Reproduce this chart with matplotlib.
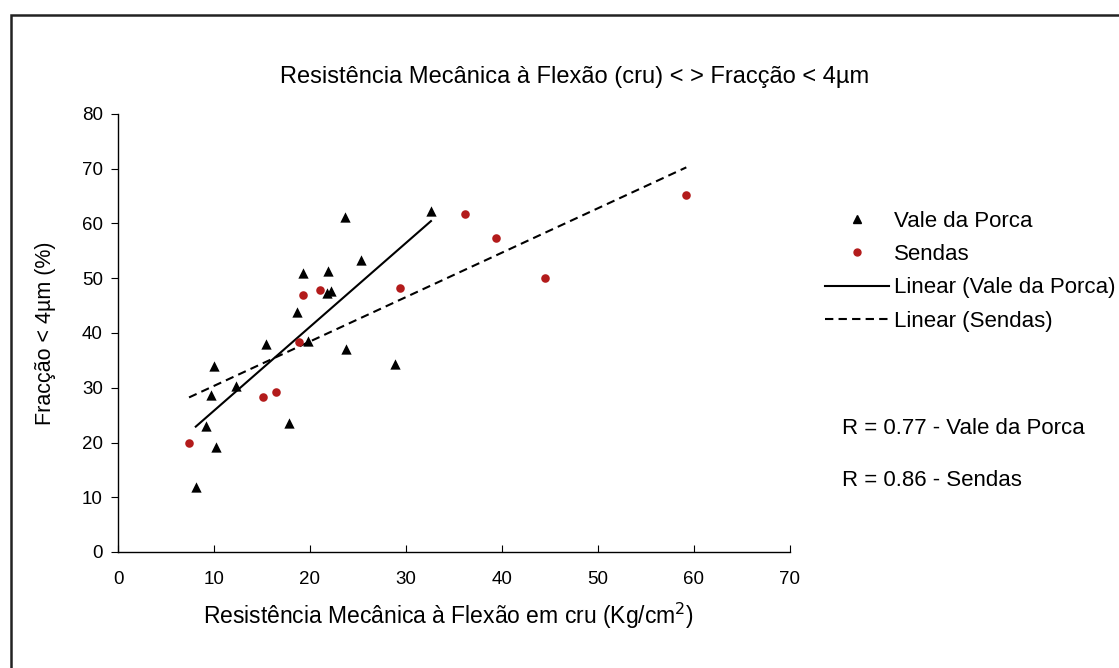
import matplotlib
matplotlib.use("Agg")
import matplotlib.pyplot as plt
from matplotlib.lines import Line2D
from matplotlib.patches import Rectangle
import numpy as np

plt.rcParams['font.family'] = ['Liberation Sans', 'DejaVu Sans']

# Vale da Porca
vp_x = [8.1, 9.2, 10.2, 9.7, 10.0, 12.3, 15.4, 17.8, 18.6, 19.3, 19.8, 21.9, 21.8, 22.2, 23.6, 23.75, 25.3, 28.85, 32.6]
vp_y = [11.9, 23.0, 19.1, 28.7, 33.9, 30.3, 38.0, 23.5, 43.9, 50.9, 38.6, 51.3, 47.3, 47.7, 61.2, 37.0, 53.3, 34.3, 62.3]

# Sendas
se_x = [7.4, 15.1, 16.5, 18.9, 19.3, 21.0, 29.4, 36.1, 39.4, 44.5, 59.2]
se_y = [20.0, 28.4, 29.3, 38.4, 46.9, 47.9, 48.3, 61.7, 57.3, 50.0, 65.2]

r_labels = ["R = 0.77 - Vale da Porca", "R = 0.86 - Sendas"]

title = "Resistência Mecânica à Flexão (cru) < > Fracção < 4µm"
xlabel = "Resistência Mecânica à Flexão em cru (Kg/cm$^2$)"
ylabel = "Fracção < 4µm (%)"

red = "#B31B1B"

fig = plt.figure(figsize=(11.19, 6.68), dpi=100)
ax = fig.add_axes([118 / 1119, 1 - 552 / 668, 672 / 1119, 438 / 668])

ax.scatter(vp_x, vp_y, marker="^", s=55, color="black", zorder=3, linewidths=0)
ax.scatter(se_x, se_y, marker="o", s=38, color=red, zorder=3, linewidths=0)

# linear trend lines
for xs, ys, ls in [(vp_x, vp_y, "-"), (se_x, se_y, (0, (4, 2.5)))]:
    k, b = np.polyfit(xs, ys, 1)
    xx = np.array([min(xs), max(xs)])
    ax.plot(xx, k * xx + b, color="black", lw=1.5, linestyle=ls, zorder=2)

ax.set_xlim(0, 70)
ax.set_ylim(0, 80)
ax.set_xticks(range(0, 71, 10))
ax.set_yticks(range(0, 81, 10))
ax.spines['top'].set_visible(False)
ax.spines['right'].set_visible(False)
ax.spines['left'].set_linewidth(1.0)
ax.spines['bottom'].set_linewidth(1.0)
ax.tick_params(axis="x", direction="in", length=5, labelsize=13.5, pad=14)
ax.tick_params(axis="y", direction="out", length=5, labelsize=13.5, pad=6)

fig.text(575 / 1119, 1 - 83 / 668, title, ha="center", va="baseline", fontsize=17)
fig.text(448 / 1119, 1 - 616 / 668, xlabel, ha="center", va="center", fontsize=16.5)
fig.text(46 / 1119, 1 - 333 / 668, ylabel, ha="center", va="center", fontsize=15.5, rotation=90)

handles = [
    Line2D([], [], marker="^", color="black", linestyle="none", markersize=6),
    Line2D([], [], marker="o", color=red, linestyle="none", markersize=5),
    Line2D([], [], color="black", lw=1.5),
    Line2D([], [], color="black", lw=1.5, linestyle=(0, (4, 2.5))),
]
labels = ["Vale da Porca", "Sendas", "Linear (Vale da Porca)", "Linear (Sendas)"]
fig.legend(handles, labels, loc="upper left", bbox_to_anchor=(825 / 1119, 1 - 211 / 668),
           frameon=False, fontsize=16, handlelength=2.9, handletextpad=0.22,
           labelspacing=0.55, borderpad=0, borderaxespad=0)

fig.text(842 / 1119, 1 - 428 / 668, r_labels[0], ha="left", va="center", fontsize=16)
fig.text(842 / 1119, 1 - 480 / 668, r_labels[1], ha="left", va="center", fontsize=16)

# outer frame
fig.patches.append(Rectangle((11 / 1119, -0.05), 1.1, 1 - 15 / 668 + 0.05,
                             transform=fig.transFigure, fill=False, lw=1.8,
                             edgecolor="#222222"))

fig.savefig("out.png", dpi=100)
